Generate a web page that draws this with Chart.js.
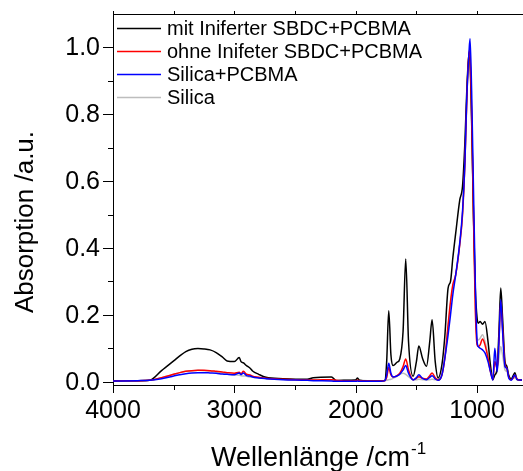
<!DOCTYPE html>
<html>
<head>
<meta charset="utf-8">
<script src="https://cdn.jsdelivr.net/npm/chart.js@4"></script>
<style>
  html, body { margin: 0; padding: 0; background: #fff; }
  #wrap { width: 523px; height: 471px; }
</style>
</head>
<body>
<div id="wrap"><canvas id="ftir"></canvas></div>
<script>
// wavenumbers /cm-1 (shared by all spectra)
var wavenumbers = [4000, 3800, 3700, 3600, 3500, 3450, 3400, 3350, 3300, 3250, 3200, 3150, 3100, 3060, 3000,
  2960, 2945, 2925, 2900, 2870, 2850, 2800, 2740, 2600, 2400, 2350, 2200, 2160, 2100, 2000, 1985, 1970, 1900,
  1800, 1760, 1745, 1728, 1710, 1692, 1660, 1637, 1610, 1588, 1565, 1527, 1500, 1480, 1450, 1417, 1390, 1371,
  1345, 1321, 1290, 1266, 1239, 1219, 1200, 1176, 1143, 1120, 1100, 1085, 1066, 1058, 1045, 1030, 1015, 1000,
  990, 975, 955, 935, 910, 890, 870, 854, 835, 820, 805, 790, 770, 755, 740, 720, 700, 689, 670, 650, 630];

var mitIniferter = [0.002, 0.003, 0.004, 0.033, 0.062, 0.077, 0.090, 0.097, 0.099, 0.098, 0.095, 0.087, 0.074, 0.062, 0.060,
  0.072, 0.060, 0.056, 0.048, 0.040, 0.032, 0.022, 0.013, 0.009, 0.007, 0.012, 0.014, 0.003, 0.004, 0.005, 0.011, 0.004, 0.002,
  0.002, 0.004, 0.060, 0.212, 0.080, 0.048, 0.058, 0.068, 0.150, 0.367, 0.120, 0.016, 0.060, 0.107, 0.070, 0.046, 0.120, 0.185,
  0.060, 0.011, 0.050, 0.135, 0.280, 0.300, 0.370, 0.445, 0.543, 0.585, 0.720, 0.870, 0.985, 0.960, 0.780, 0.500, 0.280, 0.190,
  0.175, 0.180, 0.172, 0.180, 0.120, 0.050, 0.006, 0.020, 0.040, 0.150, 0.280, 0.190, 0.060, 0.046, 0.020, 0.008, 0.020, 0.027, 0.006, 0.005, 0.005];

var ohneInifeter = [0.002, 0.003, 0.004, 0.012, 0.022, 0.027, 0.031, 0.033, 0.034, 0.034, 0.033, 0.031, 0.029, 0.027, 0.025,
  0.028, 0.024, 0.031, 0.022, 0.020, 0.016, 0.013, 0.010, 0.007, 0.005, 0.005, 0.006, 0.004, 0.002, 0.003, 0.004, 0.003, 0.002,
  0.002, 0.003, 0.012, 0.042, 0.020, 0.014, 0.018, 0.025, 0.045, 0.068, 0.035, 0.006, 0.010, 0.015, 0.010, 0.008, 0.018, 0.026,
  0.012, 0.005, 0.020, 0.070, 0.170, 0.240, 0.290, 0.320, 0.410, 0.500, 0.660, 0.840, 0.990, 0.970, 0.800, 0.500, 0.220, 0.110,
  0.105, 0.110, 0.128, 0.110, 0.070, 0.030, 0.006, 0.060, 0.040, 0.120, 0.240, 0.160, 0.050, 0.040, 0.015, 0.006, 0.012, 0.020, 0.008, 0.005, 0.005];

var silicaPcbma = [0.002, 0.003, 0.004, 0.009, 0.017, 0.021, 0.024, 0.026, 0.027, 0.027, 0.026, 0.025, 0.023, 0.022, 0.021,
  0.026, 0.021, 0.026, 0.018, 0.017, 0.014, 0.011, 0.009, 0.006, 0.004, 0.003, 0.002, 0.001, 0.001, 0.001, 0.002, 0.001, 0.001,
  0.001, 0.003, 0.020, 0.055, 0.025, 0.014, 0.017, 0.022, 0.035, 0.048, 0.025, 0.005, 0.012, 0.021, 0.010, 0.006, 0.013, 0.018,
  0.008, 0.004, 0.020, 0.070, 0.140, 0.200, 0.260, 0.320, 0.415, 0.510, 0.660, 0.850, 0.990, 1.026, 0.870, 0.580, 0.300, 0.120,
  0.105, 0.100, 0.095, 0.086, 0.060, 0.030, 0.005, 0.100, 0.030, 0.120, 0.245, 0.150, 0.045, 0.040, 0.012, 0.004, 0.015, 0.020, 0.006, 0.005, 0.005];

var silica = [0.002, 0.003, 0.004, 0.012, 0.022, 0.027, 0.031, 0.033, 0.034, 0.033, 0.032, 0.029, 0.026, 0.023, 0.020,
  0.019, 0.018, 0.017, 0.016, 0.014, 0.013, 0.011, 0.009, 0.007, 0.005, 0.005, 0.005, 0.004, 0.004, 0.004, 0.004, 0.004, 0.003,
  0.003, 0.003, 0.004, 0.006, 0.007, 0.010, 0.016, 0.022, 0.025, 0.022, 0.015, 0.006, 0.006, 0.007, 0.006, 0.005, 0.006, 0.007,
  0.006, 0.006, 0.020, 0.070, 0.160, 0.230, 0.280, 0.320, 0.410, 0.500, 0.660, 0.850, 0.980, 0.950, 0.780, 0.500, 0.240, 0.130,
  0.125, 0.130, 0.140, 0.120, 0.080, 0.035, 0.012, 0.020, 0.030, 0.070, 0.105, 0.080, 0.035, 0.030, 0.015, 0.007, 0.010, 0.012, 0.006, 0.005, 0.005];

var seriesNames = ['mit Iniferter SBDC+PCBMA', 'ohne Inifeter SBDC+PCBMA', 'Silica+PCBMA', 'Silica'];
var seriesColors = ['#000000', '#ff0000', '#0000ff', '#bdbdbd'];
var xTicks = [4000, 3500, 3000, 2500, 2000, 1500, 1000];
var yTicks = [0.0, 0.1, 0.2, 0.3, 0.4, 0.5, 0.6, 0.7, 0.8, 0.9, 1.0];

function toPoints(vals) {
  return wavenumbers.map(function(w, i) { return { x: w, y: vals[i] }; });
}

var FONT = 'Arial, "Liberation Sans", sans-serif';

// axis ticks + labels, top frame, titles and legend
var decor = {
  id: 'decor',
  afterDraw: function(chart) {
    var c = chart.ctx, a = chart.chartArea;
    var xs = chart.scales.x, ys = chart.scales.y;
    c.save();
    c.strokeStyle = '#000';
    c.lineWidth = 1;
    c.beginPath();
    c.moveTo(a.left, a.top + 0.5); c.lineTo(a.right + 1, a.top + 0.5);
    xTicks.forEach(function(v) {
      var px = Math.round(xs.getPixelForValue(v)) + 0.5;
      var len = (v % 1000 === 0) ? 8 : 5;
      c.moveTo(px, a.bottom); c.lineTo(px, a.bottom + len);
      c.moveTo(px, a.top); c.lineTo(px, a.top - 3);
    });
    yTicks.forEach(function(v, i) {
      var py = Math.round(ys.getPixelForValue(v)) + 0.5;
      var len = (i % 2 === 0) ? 10 : 5;
      c.moveTo(a.left, py); c.lineTo(a.left - len, py);
    });
    c.stroke();

    c.fillStyle = '#000';
    c.font = '25px ' + FONT;
    c.textBaseline = 'middle';
    c.textAlign = 'center';
    xTicks.forEach(function(v) {
      if (v % 1000 === 0) c.fillText(String(v), xs.getPixelForValue(v), 411);
    });
    c.textAlign = 'right';
    yTicks.forEach(function(v, i) {
      if (i % 2 === 0) c.fillText(v.toFixed(1), 100, ys.getPixelForValue(v) + 1);
    });

    // x title with superscript
    c.textBaseline = 'alphabetic';
    c.textAlign = 'left';
    var main = 'Wellenlänge /cm';
    c.font = '27px ' + FONT;
    var w1 = c.measureText(main).width;
    c.font = '17px ' + FONT;
    var w2 = c.measureText('-1').width;
    var x0 = 318 - (w1 + w2) / 2;
    c.font = '27px ' + FONT;
    c.fillText(main, x0, 466);
    c.font = '17px ' + FONT;
    c.fillText('-1', x0 + w1 + 1, 454);

    // y title
    c.save();
    c.translate(33, 222);
    c.rotate(-Math.PI / 2);
    c.textAlign = 'center';
    c.font = '26px ' + FONT;
    c.fillText('Absorption /a.u.', 0, 0);
    c.restore();

    // legend
    c.font = '20px ' + FONT;
    c.textBaseline = 'middle';
    c.textAlign = 'left';
    seriesNames.forEach(function(name, i) {
      var y = 28 + i * 23;
      c.strokeStyle = seriesColors[i];
      c.lineWidth = 1.5;
      c.beginPath();
      c.moveTo(117, y + 0.5); c.lineTo(161, y + 0.5);
      c.stroke();
      c.fillStyle = '#000';
      c.fillText(name, 167, y + 1);
    });
    c.restore();
  }
};

var datasets = seriesNames.map(function(name, i) {
  var vals = [mitIniferter, ohneInifeter, silicaPcbma, silica][i];
  return {
    label: name,
    data: toPoints(vals),
    borderColor: seriesColors[i],
    borderWidth: 1.5,
    pointRadius: 0,
    fill: false,
    cubicInterpolationMode: 'monotone',
    order: [3, 2, 1, 4][i]
  };
});

new Chart(document.getElementById('ftir'), {
  type: 'line',
  data: { datasets: datasets },
  options: {
    responsive: true,
    maintainAspectRatio: false,
    animation: false,
    layout: { padding: { top: 14, right: 1, left: 0, bottom: 0 } },
    plugins: { legend: { display: false }, tooltip: { enabled: false } },
    scales: {
      x: {
        type: 'linear',
        reverse: true,
        min: 630,
        max: 4000,
        afterBuildTicks: function(s) { s.ticks = xTicks.map(function(v) { return { value: v }; }); },
        afterFit: function(s) { s.height = 86; },
        grid: { display: false, drawTicks: false },
        border: { display: true, color: '#000', width: 1 },
        ticks: { display: false }
      },
      y: {
        min: -0.01,
        max: 1.1,
        afterBuildTicks: function(s) { s.ticks = yTicks.map(function(v) { return { value: v }; }); },
        afterFit: function(s) { s.width = 113; },
        grid: { display: false, drawTicks: false },
        border: { display: true, color: '#000', width: 1 },
        ticks: { display: false }
      }
    }
  },
  plugins: [decor]
});
</script>
</body>
</html>
